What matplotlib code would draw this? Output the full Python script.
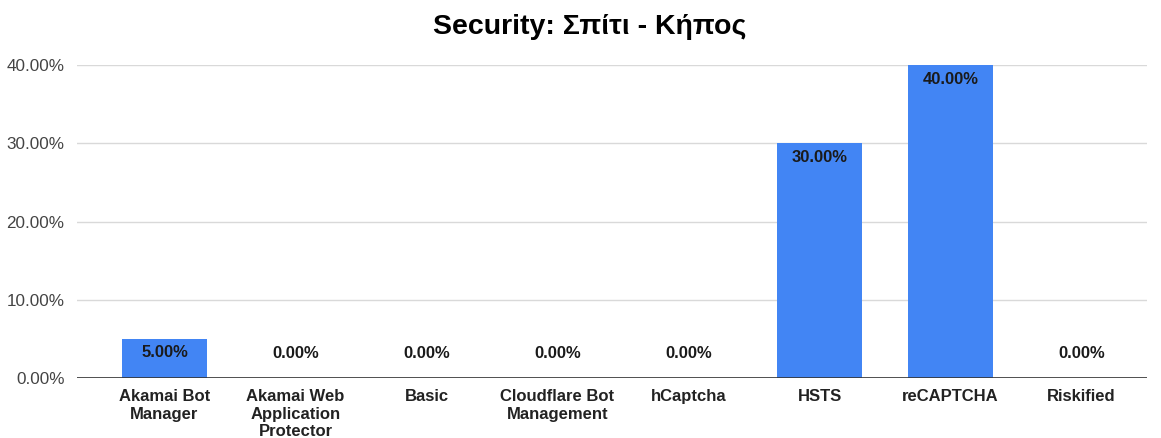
import matplotlib
matplotlib.use('Agg')
import matplotlib.pyplot as plt
from matplotlib.ticker import FuncFormatter

plt.rcParams['font.family'] = ['Liberation Sans', 'DejaVu Sans']

# Data
categories = ['Akamai Bot\nManager', 'Akamai Web\nApplication\nProtector', 'Basic',
              'Cloudflare Bot\nManagement', 'hCaptcha', 'HSTS', 'reCAPTCHA', 'Riskified']
values = [5.0, 0.0, 0.0, 0.0, 0.0, 30.0, 40.0, 0.0]
title = 'Security: Σπίτι - Κήπος'

W, H = 1161, 438
fig = plt.figure(figsize=(W / 100, H / 100), dpi=100)
ax = fig.add_axes([77 / W, 1 - 378 / H, (1147 - 77) / W, (378 - 65) / H])

x = list(range(len(categories)))
ax.bar(x, values, width=0.65, color='#4285f4', zorder=3)

for xi, v in zip(x, values):
    if v > 0:
        ax.annotate(f'{v:.2f}%', (xi, v), xytext=(0, -14), textcoords='offset pixels',
                    ha='center', va='center', fontsize=12, fontweight='bold',
                    color='#1a1a1a', zorder=4)
    else:
        ax.annotate(f'{v:.2f}%', (xi, v), xytext=(0, 25), textcoords='offset pixels',
                    ha='center', va='center', fontsize=12, fontweight='bold',
                    color='#1a1a1a', zorder=4)

ax.set_xlim(-0.668, 7.5)
ax.set_ylim(0, 40)
ax.set_yticks([0, 10, 20, 30, 40])
ax.yaxis.set_major_formatter(FuncFormatter(lambda v, p: f'{v:.2f}%'))
ax.set_xticks(x)
ax.set_xticklabels(categories, fontsize=12, fontweight='bold', color='#222222',
                   linespacing=1.2)
ax.tick_params(axis='x', length=0, pad=8)
ax.tick_params(axis='y', length=0, pad=9, labelsize=12.3, labelcolor='#444444')

ax.grid(axis='y', color='#d9d9d9', linewidth=1, zorder=0)
ax.axhline(0, color='#333333', linewidth=1.2, zorder=5)
for s in ax.spines.values():
    s.set_visible(False)

fig.text(590 / W, 1 - 27 / H, title, ha='center', va='center', fontsize=20.5,
         fontweight='bold', color='#000000')

fig.savefig('out.png', dpi=100)
